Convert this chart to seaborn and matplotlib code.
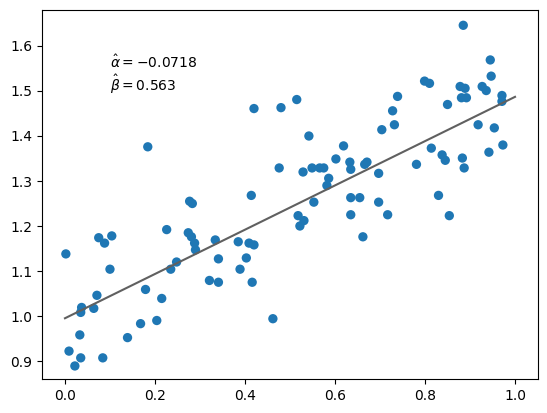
import matplotlib
matplotlib.use("Agg")
import matplotlib.pyplot as plt
import seaborn as sns
import numpy as np

x = [0.002,0.009,0.022,0.033,0.035,0.035,0.037,0.064,0.071,0.075,0.084,0.088,0.1,0.104,0.139,0.168,0.179,0.184,0.204,0.215,0.226,0.235,0.248,0.274,0.277,0.283,0.281,0.288,0.29,0.321,0.334,0.341,0.341,0.385,0.389,0.403,0.409,0.414,0.416,0.42,0.42,0.462,0.476,0.48,0.515,0.518,0.522,0.529,0.531,0.542,0.549,0.553,0.566,0.575,0.582,0.586,0.602,0.619,0.633,0.635,0.635,0.635,0.655,0.662,0.666,0.671,0.697,0.697,0.704,0.717,0.728,0.732,0.739,0.781,0.799,0.81,0.814,0.83,0.838,0.845,0.85,0.854,0.878,0.881,0.885,0.883,0.887,0.889,0.892,0.918,0.927,0.936,0.942,0.945,0.947,0.954,0.971,0.971,0.973]
y = [1.138,0.922,0.889,0.958,0.907,1.008,1.019,1.017,1.046,1.174,0.907,1.162,1.104,1.178,0.952,0.983,1.059,1.376,0.990,1.039,1.192,1.104,1.12,1.185,1.255,1.25,1.176,1.162,1.147,1.079,1.169,1.127,1.075,1.165,1.104,1.129,1.162,1.268,1.075,1.461,1.158,0.994,1.329,1.463,1.481,1.223,1.2,1.32,1.212,1.4,1.329,1.253,1.329,1.329,1.29,1.306,1.349,1.378,1.342,1.326,1.263,1.225,1.263,1.176,1.337,1.342,1.317,1.253,1.414,1.225,1.456,1.425,1.488,1.337,1.522,1.517,1.373,1.268,1.358,1.346,1.47,1.223,1.51,1.485,1.646,1.351,1.329,1.506,1.485,1.425,1.51,1.501,1.364,1.569,1.533,1.418,1.49,1.477,1.38]
line_x = [0.0, 1.0]
line_y = [0.995, 1.487]

fig, ax = plt.subplots(figsize=(5.47, 4.13), dpi=100)
fig.subplots_adjust(left=0.0768, right=0.9835, top=0.9758, bottom=0.0823)
sns.scatterplot(x=x, y=y, ax=ax, s=45, color="#1f77b4", edgecolor="none", linewidth=0)
sns.lineplot(x=line_x, y=line_y, ax=ax, color="#606060", linewidth=1.5)
ax.text(0.1, 1.55, r"$\hat{\alpha} = -0.0718$")
ax.text(0.1, 1.50, r"$\hat{\beta} = 0.563$")
ax.set_xlim(-0.051, 1.051)
ax.set_ylim(0.86, 1.68)
fig.savefig("out.png", dpi=100)
